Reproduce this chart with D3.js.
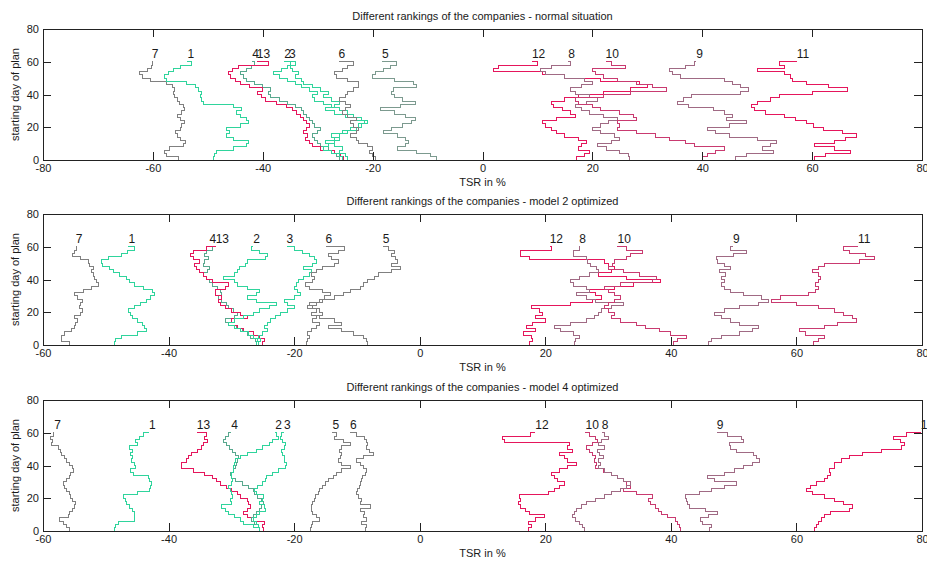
<!DOCTYPE html>
<html>
<head>
<meta charset="utf-8">
<script src="https://cdn.jsdelivr.net/npm/d3@7"></script>
<style>
  body { margin: 0; background: #fff; }
  text { font-family: "Liberation Sans", Arial, sans-serif; fill: #1a1a1a; }
</style>
</head>
<body>
<script>

// starting days of the plan (every second day)
var days = d3.range(0, 61, 2);

var yTicks = [0, 20, 40, 60, 80];
var xTicksNormal = [-80, -60, -40, -20, 0, 20, 40, 60, 80];
var xTicksModel = [-60, -40, -20, 0, 20, 40, 60, 80];

// TSR in % per company, normal situation
var n7  = [-55.4,-57.5,-57.8,-57,-54.5,-54,-55,-55.5,-55.8,-55,-54.8,-54.3,-55,-55.5,-54.8,-54.2,-54.5,-55.2,-55.6,-56,-56.3,-56,-56.5,-57.5,-60.5,-61.8,-62.4,-61,-60.3,-60,-60.2];
var n1  = [-49,-48.8,-48.4,-45.3,-43,-42.6,-45.3,-46.6,-46,-46.6,-44.1,-42.6,-43,-44.1,-44.7,-43.8,-45.3,-50.8,-51.1,-51.4,-51.1,-51.7,-52.3,-53.9,-57.5,-57.8,-57.2,-56.3,-55,-52.9,-53.7];
var n4  = [-26,-26.5,-27.5,-28,-29.5,-30,-30.5,-31,-30,-29.5,-30.5,-31,-31.5,-32,-32.5,-33,-34,-35.5,-37,-38.5,-39,-38.5,-40,-41.5,-43,-43.5,-44,-43,-42,-41.5,-41.9];
var n13 = [-25.3,-25.8,-27,-29.5,-31,-31.5,-32.3,-31.8,-32.5,-32,-31.5,-32,-32.6,-33.2,-33.8,-34.5,-35.6,-37.5,-39.5,-40.3,-41,-40,-42.5,-44,-45,-45.8,-46.3,-45.5,-44.5,-39,-41.1];
var n2  = [-25.5,-26,-27.5,-29,-28,-27,-26,-27.5,-25.5,-24,-22.5,-21,-22,-23.5,-24.5,-26,-27.5,-29,-30.5,-31,-30,-31.5,-33,-34,-35.5,-37,-38,-36.5,-35.5,-35,-36.1];
var n3  = [-24.5,-25,-26,-25.5,-27,-28.5,-27,-26,-24.5,-23,-22,-21.5,-23,-25,-27,-28.5,-27,-26,-27.5,-29,-28,-29.5,-31,-32.5,-33,-34,-33.5,-34.5,-35,-34,-35.2];
var n6  = [-19.5,-20,-20.5,-20,-21,-22.5,-23,-24,-23,-22.5,-23.5,-24,-23,-24.5,-25.5,-25,-24,-25,-26,-25,-24.5,-23.5,-22.5,-22.6,-24.5,-26.5,-27,-25.5,-24.5,-23.5,-26.2];
var n5  = [-8.3,-9.5,-12,-15.5,-14,-13.4,-14,-15.5,-18,-16.5,-14.5,-13,-12.2,-14,-16,-18.6,-15,-12.2,-14.5,-16,-16.5,-16.2,-12,-12.5,-16,-20,-19.5,-18,-16.8,-15.6,-18.3];
var n12 = [17.2,18.5,19.5,17.5,18,19,17.5,15,13.5,12.5,11.5,11,13.5,17,16,14.5,13,12.5,15,17.5,22,27,30,28.5,21.5,15,11,2,3,10,9];
var n8  = [26.8,26.5,25,22.5,21,23.5,25,24,21.5,20,21.5,23,24.5,22,19.5,18,17,19,21,19.5,17,16,18,20,18.5,15,11.5,10.5,12.5,16,15.6];
var n10 = [40,41,42.5,44,38.5,37,34,31.5,28,24.5,25,24.5,28,27.5,25,21.5,20,17.5,17,22,27,33.5,31,28,24.5,22,20.5,20,26,23.5,22.4];
var n9  = [46,48,53,51,52.5,53.5,50,45,42.5,41,45,48,44.5,45.5,44,42,37.5,35.5,36.5,38,47,48.5,47,45.5,44,36,34.5,34,37,38.5,38.9];
var n11 = [60.5,62.5,67,64,60.5,64,66,68,65.5,62,60.2,59,57,55,51.5,49.5,49,50,52.5,54,60,66.5,63,59,56.5,56,55,50,55,54,57.2];

// model 2 optimized
var a7  = [-55.7,-57,-57,-56.5,-55.5,-55,-54.8,-54.5,-55,-54,-53.7,-54.2,-54,-53.7,-54.5,-55,-53.5,-52.3,-51.2,-51.5,-51.8,-52,-52.3,-52,-52.6,-52.8,-54,-55.3,-55,-54.7,-54.8];
var a1  = [-48.6,-48.5,-47.5,-45,-43.5,-43.8,-44.2,-45,-45.7,-46,-46.4,-45.5,-44.5,-43.5,-42.8,-42.2,-42.5,-44,-45.5,-46.3,-46.7,-47.8,-48.8,-49.4,-50.5,-50.7,-49.5,-47.5,-46.5,-45.5,-46.4];
var a4  = [-26,-26.2,-27,-27.5,-28.3,-29.2,-30.5,-31,-29.5,-29,-29.7,-30.5,-30.8,-31.5,-32,-31.6,-31.8,-32.2,-33,-33.5,-34,-34.5,-33.8,-33.5,-34.5,-34.3,-33.7,-34.2,-34,-33,-33.5];
var a13 = [-25,-24.8,-25.5,-26.5,-28,-29,-30.5,-30,-27.5,-28.5,-30,-31,-31.8,-32,-31.5,-32.5,-32.5,-31,-30.5,-33,-34,-34.5,-35,-35.5,-35.8,-35,-36,-36.5,-36,-34,-32.5];
var a2  = [-26,-25.8,-26.4,-27.2,-28.5,-29.5,-30.5,-29.5,-28,-26.5,-25.5,-24,-22.8,-26,-27.5,-26,-25.5,-27.5,-29,-29.5,-31.3,-29.5,-29,-28.7,-27.8,-27.5,-24.5,-24.3,-25.5,-26.8,-26.5];
var a3  = [-25.6,-25.4,-25.7,-25,-24.3,-24.8,-24.2,-23.7,-23,-22.2,-21,-20,-21,-21.5,-20,-19,-19.5,-20,-19.6,-19.3,-18.5,-17.5,-17.3,-18.5,-17,-16.5,-16.8,-17.5,-18.7,-20,-21.2];
var a6  = [-18,-17.8,-17.5,-17.8,-17.3,-16.5,-16,-17,-16.5,-15.5,-16,-17,-17.5,-16,-15.2,-14.2,-15.5,-17.5,-18.2,-17,-16.8,-17.3,-16.5,-15.5,-13.5,-13,-14,-14.5,-13,-12,-15];
var a5  = [-8.3,-8.5,-9,-10.5,-12.5,-14.5,-12.5,-13.5,-16,-17.3,-16.5,-17.8,-16.5,-15.5,-13.5,-12.2,-11,-9.5,-9,-8.3,-7.2,-6.5,-4.5,-3,-4.5,-3.5,-3.8,-4.5,-4,-5,-5.9];
var a12 = [17.5,18,17.8,16.5,18.5,17,18,20,18.5,19.5,19,17.8,24,27.5,29,28,27,31,34,38.3,33,28.5,30.5,31,30,29.5,17.5,16,16,21,20.7];
var a8  = [24.6,24.8,25.5,24.5,22.5,21.5,24,26.5,27.8,28.5,29,30.5,32.5,28,26.5,25,27,26.5,24.5,24,25.5,27,28.5,28.2,27.2,26.8,26.5,24.5,24.5,25.5,25.4];
var a10 = [40.5,41,42.5,40,38.2,36,34.5,32,30.5,31,30,29.5,30,31,32,31,30,29.5,32,37,37.7,35,32.5,30,30.7,31,33,33.5,35.5,33,31.5];
var a9  = [46,46.5,48,51,53,54,51,49.5,48,47,48.5,51,54,55.5,54.5,51.5,49.5,48.5,48,48.5,48,48.7,47.8,49.5,48.5,47.5,47.2,50,52,49.5,49.9];
var a11 = [62.7,63.5,64.5,61.5,60.5,64.5,66.5,69.5,69,67.5,66,63.5,60,56,57.5,62,63,63.5,63,63.5,63.8,63.5,62.5,63.5,64.5,70,72.5,71,68.5,67.5,69.8];

// model 4 optimized
var b7  = [-55.7,-56.2,-56.8,-57.3,-56,-55.7,-55.3,-55,-54.9,-55.3,-55.6,-55.8,-56.2,-56.5,-56.7,-56.3,-55.8,-55.6,-55.2,-55.3,-55.7,-56.3,-56.5,-57,-57.2,-57.5,-58.7,-58.5,-58.8,-58.3,-58.2];
var b1  = [-48.6,-48.4,-48,-45.5,-45.4,-45.5,-45.8,-46.3,-46.7,-46.8,-47.2,-45,-43,-42.8,-42.7,-43,-43.2,-45.6,-46,-45.3,-45.5,-45.9,-45.7,-46,-45.8,-46.2,-45,-45.3,-44.6,-44,-43.1];
var b13 = [-24.9,-25,-24.8,-26.5,-27.5,-28,-27.5,-27,-27.2,-27.5,-28.5,-29,-30,-30.8,-31.7,-32.4,-33,-34.3,-36,-38,-37.9,-37.2,-36.8,-36.3,-35.4,-34.8,-34.5,-33.8,-34.2,-34,-35.5];
var b4  = [-25.5,-25.6,-26.3,-26.8,-26.5,-26,-25.5,-25.2,-24.9,-25.2,-25.8,-26.3,-26.5,-27.3,-28.2,-29.3,-30,-30.2,-29.6,-29.3,-29.2,-29,-28.9,-29.4,-29.8,-30.3,-30.8,-31.3,-31,-30.5,-30];
var b2  = [-25.5,-26.5,-28,-28.5,-29.5,-30.5,-31,-31.5,-30,-30.2,-29.8,-30,-30.2,-30.5,-30,-29.8,-29.9,-30,-29.7,-29.6,-29.5,-29.3,-28.5,-27.5,-26,-25,-24,-23.5,-22.5,-22.8,-23];
var b3  = [-25.5,-25.6,-26,-26.5,-26,-25.5,-24.5,-24.8,-25.5,-25,-24.9,-26,-26.3,-25.8,-25,-24.5,-24.4,-23.5,-22.5,-21.3,-21.2,-21.5,-21.6,-21.8,-22,-21.5,-21.3,-21.8,-22.2,-22,-21.6];
var b5  = [-17.4,-17.2,-17,-16,-16.5,-17,-17.2,-17.3,-17,-16.8,-16.6,-16.2,-16,-15.5,-15,-14.5,-13.7,-13.3,-12.5,-11,-12.5,-13,-12.6,-12.5,-12.8,-12.5,-11,-12.2,-13.5,-13.2,-13.9];
var b6  = [-8.7,-8.5,-9.2,-8.4,-9,-8.8,-9.5,-7.9,-9.5,-9.3,-9.7,-10,-9.9,-9.6,-9.5,-9.2,-9.1,-8.7,-8.5,-9,-9.5,-10,-9,-7.3,-8,-8.5,-8.3,-8.4,-8.8,-10,-11.1];
var b12 = [17.4,17.8,17.3,18.5,19.8,17.5,16.8,16,15.7,16,15.9,20.5,21.5,22.3,23,22,21.5,21,22.3,23.5,24.9,23.5,23,22.3,24.4,23.6,23.8,13.5,13.2,17.7,18.4];
var b10 = [41.5,41.4,41,40.8,39.5,38.5,38,37.5,36.8,36.5,37,34.5,32.5,33.5,33,32.5,31.5,30.5,29.3,28,28.2,27.8,28,27.5,27,26.5,27.5,28.3,28,27,26.4];
var b8  = [26.2,26,25.5,24.8,24.4,24.6,25,25.8,26.5,28,29.5,30.5,32,33,33.5,32.5,31.5,30.5,29.5,28.5,28.8,28.5,29.2,28.7,28.3,29.5,28.5,29,30,29.5,29];
var b9  = [46.2,46.5,45,44.8,46,47.5,45.5,43,42.7,42.5,42.4,44.5,46.5,48.5,50.4,47,45.8,48.5,50.2,51.5,53,54.1,53.6,53.2,50.5,49.5,49.4,51.5,51.2,49,47.3];
var b11 = [62.9,63.2,63.5,64,64.5,65.5,68.5,69,67.5,66,64.5,62.5,61.6,62.3,63.2,64.5,65,65.5,65.2,66,66,67.2,68.5,70.5,73.6,76.8,77.2,76.5,75.4,77.5,79.8];

var GRAY = "#808080", GREEN = "#2fd49c", TEAL = "#58a88e", SAGE = "#7c9a8f",
    RED = "#e5165c", ROSE = "#c93a70", MAUVE = "#a06a84";

var panels = [
  { title: "Different rankings of the companies - normal situation", xDomain: [-80, 80], xTicks: xTicksNormal, top: 29,
    series: [["7", n7, GRAY], ["1", n1, GREEN], ["4", n4, TEAL], ["13", n13, RED], ["2", n2, GREEN], ["3", n3, GREEN],
             ["6", n6, GRAY], ["5", n5, SAGE], ["12", n12, RED], ["8", n8, MAUVE], ["10", n10, ROSE], ["9", n9, MAUVE], ["11", n11, RED]] },
  { title: "Different rankings of the companies - model 2 optimized", xDomain: [-60, 80], xTicks: xTicksModel, top: 214,
    series: [["7", a7, GRAY], ["1", a1, GREEN], ["4", a4, TEAL], ["13", a13, RED], ["2", a2, GREEN], ["3", a3, GREEN],
             ["6", a6, GRAY], ["5", a5, GRAY], ["12", a12, RED], ["8", a8, MAUVE], ["10", a10, ROSE], ["9", a9, MAUVE], ["11", a11, ROSE]] },
  { title: "Different rankings of the companies - model 4 optimized", xDomain: [-60, 80], xTicks: xTicksModel, top: 400,
    series: [["7", b7, GRAY], ["1", b1, GREEN], ["13", b13, RED], ["4", b4, TEAL], ["2", b2, GREEN], ["3", b3, GREEN],
             ["5", b5, GRAY], ["6", b6, GRAY], ["12", b12, RED], ["10", b10, ROSE], ["8", b8, MAUVE], ["9", b9, MAUVE], ["11", b11, RED]] }
];

var svg = d3.select("body").append("svg")
            .attr("width", 927)
            .attr("height", 563);

var left = 43, right = 922, plotH = 131, tickLen = 8;

panels.forEach(function(p) {
  var x = d3.scaleLinear().domain(p.xDomain).range([left, right]);
  var y = d3.scaleLinear().domain([0, 80]).range([p.top + plotH, p.top]);
  var g = svg.append("g");

  // stairs, one per company
  var stairs = d3.line()
                 .x(function(d) { return x(d[1]); })
                 .y(function(d) { return y(d[0]); })
                 .curve(d3.curveStepBefore);

  p.series.forEach(function(s) {
    var pts = days.map(function(day, i) { return [day, s[1][i]]; });
    g.append("path")
     .datum(pts)
     .attr("d", stairs)
     .attr("fill", "none")
     .attr("stroke", s[2])
     .attr("stroke-width", 1)
     .attr("shape-rendering", "crispEdges");
  });

  // company numbers above the last day
  p.series.forEach(function(s) {
    g.append("text")
     .attr("x", x(s[1][s[1].length - 1]))
     .attr("y", y(65))
     .attr("dy", "0.35em")
     .attr("font-size", 12)
     .text(s[0]);
  });

  // axes, ticks pointing inwards like matlab
  var fmt = function(d) { return String(d); };
  var bottom = g.append("g").attr("transform", "translate(0," + y(0) + ")")
                .call(d3.axisBottom(x).tickValues(p.xTicks).tickSizeInner(-tickLen).tickSizeOuter(0).tickPadding(4).tickFormat(fmt));
  var topAx = g.append("g").attr("transform", "translate(0," + y(80) + ")")
                .call(d3.axisTop(x).tickValues(p.xTicks).tickSizeInner(-tickLen).tickSizeOuter(0).tickFormat(""));
  var leftAx = g.append("g").attr("transform", "translate(" + left + ",0)")
                .call(d3.axisLeft(y).tickValues(yTicks).tickSizeInner(-tickLen).tickSizeOuter(0).tickPadding(4).tickFormat(fmt));
  var rightAx = g.append("g").attr("transform", "translate(" + right + ",0)")
                .call(d3.axisRight(y).tickValues(yTicks).tickSizeInner(-tickLen).tickSizeOuter(0).tickFormat(""));

  [bottom, topAx, leftAx, rightAx].forEach(function(a) {
    a.select(".domain").remove();
    a.selectAll("line").attr("stroke", "#222").attr("shape-rendering", "crispEdges");
    a.selectAll("text").attr("font-size", 11).attr("font-family", "Liberation Sans, Arial, sans-serif").attr("fill", "#1a1a1a");
  });

  g.append("rect")
   .attr("x", left).attr("y", p.top)
   .attr("width", right - left).attr("height", plotH)
   .attr("fill", "none").attr("stroke", "#222").attr("shape-rendering", "crispEdges");

  g.append("text")
   .attr("x", (left + right) / 2).attr("y", p.top - 9)
   .attr("text-anchor", "middle").attr("font-size", 11)
   .text(p.title);

  g.append("text")
   .attr("x", (left + right) / 2).attr("y", p.top + plotH + 26)
   .attr("text-anchor", "middle").attr("font-size", 11)
   .text("TSR in %");

  g.append("text")
   .attr("transform", "translate(19," + (p.top + plotH / 2) + ") rotate(-90)")
   .attr("text-anchor", "middle").attr("font-size", 11)
   .text("starting day of plan");
});

</script>
</body>
</html>
